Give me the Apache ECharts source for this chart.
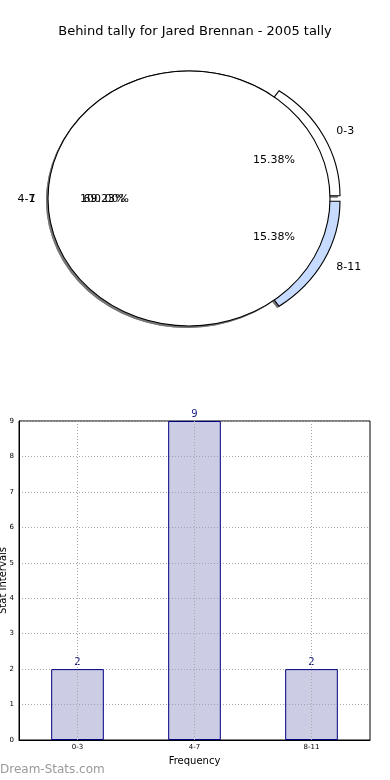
<!DOCTYPE html>
<html>
<head>
<meta charset="utf-8">
<script src="https://cdn.jsdelivr.net/npm/echarts@6/dist/echarts.min.js"></script>
<style>
html,body{margin:0;padding:0;background:#fff;}
#main{width:390px;height:780px;}
</style>
</head>
<body>
<div id="main"></div>
<script>
// ---- data ----
const titleText = 'Behind tally for Jared Brennan - 2005 tally';
const pieCategories = ['0-3', '4-7', '8-11'];
const pieValues = [2, 9, 2];
const pieExplode = [0.08, 0, 0.08];
const fullCategories = ['1'];
const fullValues = [1];
const fullExplode = [0];
const barCategories = ['0-3', '4-7', '8-11'];
const barValues = [2, 9, 2];
const yTicks = [0, 1, 2, 3, 4, 5, 6, 7, 8, 9];

// ---- style / layout ----
const pieColors = ['#ffffff', '#ffffff', '#c6dbff'];
const fullColors = ['#ffffff'];
const PCX = 189, PCY = 198.5, PR = 127.5, PSX = 141 / 127.5;
const EXPLODE_Y_SCALE = 0.6;
const SHADOW_COLOR = '#777777';
const GRID_COLOR = '#a8a8a8';
const FONT = '"DejaVu Sans", sans-serif';

function pieGeom(values, explode, i) {
  const total = values.reduce((a, b) => a + b, 0);
  let before = 0;
  for (let k = 0; k < i; k++) before += values[k];
  const a1 = before / total * 360;
  const a2 = a1 + values[i] / total * 360;
  const mid = (a1 + a2) / 2 * Math.PI / 180;
  const off = explode[i] * PR;
  return {a1, a2, mid, ox: off * Math.cos(mid), oy: -off * Math.sin(mid) * EXPLODE_Y_SCALE, frac: values[i] / total};
}

function shapeSeries(values, cats, colors, explode, z) {
  return {
    type: 'custom',
    coordinateSystem: 'none',
    z: z,
    silent: true,
    data: values.map((v, i) => ({name: cats[i], value: [v]})),
    renderItem: function (params, api) {
      const i = params.dataIndex;
      const g = pieGeom(values, explode, i);
      function mk(dx, dy, style) {
        if (g.frac >= 0.9999) {
          return {type: 'circle', shape: {cx: g.ox + dx, cy: g.oy + dy, r: PR}, style: style};
        }
        return {
          type: 'sector',
          shape: {cx: g.ox + dx, cy: g.oy + dy, r0: 0, r: PR,
            startAngle: -g.a2 * Math.PI / 180, endAngle: -g.a1 * Math.PI / 180, clockwise: true},
          style: style
        };
      }
      const shadow = mk(-2 / PSX, 2, {fill: SHADOW_COLOR, stroke: null, lineWidth: 0});
      const main = mk(0, 0, {fill: colors[i], stroke: '#000', lineWidth: 1, strokeNoScale: true});
      return {type: 'group', x: PCX, y: PCY, scaleX: PSX, scaleY: 1, children: [shadow, main]};
    }
  };
}

function labelSeries(values, cats, explode) {
  return {
    type: 'custom',
    coordinateSystem: 'none',
    z: 20,
    silent: true,
    data: values.map((v, i) => ({name: cats[i], value: [v]})),
    renderItem: function (params, api) {
      const i = params.dataIndex;
      const g = pieGeom(values, explode, i);
      const c = Math.cos(g.mid), s = Math.sin(g.mid);
      const lx = PCX + (1.1 * PR * c + g.ox) * PSX;
      const ly = PCY - 1.1 * PR * s + g.oy;
      const px = PCX + (0.6 * PR * c + g.ox) * PSX;
      const py = PCY - 0.6 * PR * s + g.oy;
      const pct = (g.frac * 100).toFixed(2) + '%';
      return {
        type: 'group',
        children: [
          {type: 'text', style: {text: cats[i], x: lx + (c > 0 ? 0 : 1.5), y: ly + 0.5, align: c > 0 ? 'left' : 'right',
            verticalAlign: 'middle', fill: '#000', fontSize: 11, fontFamily: FONT}},
          {type: 'text', style: {text: pct, x: px, y: py + 0.5, align: 'center',
            verticalAlign: 'middle', fill: '#000', fontSize: 11, fontFamily: FONT}}
        ]
      };
    }
  };
}

const chart = echarts.init(document.getElementById('main'), null, {renderer: 'canvas'});
chart.setOption({
  backgroundColor: '#fff',
  animation: false,
  title: {
    text: titleText, left: 'center', top: 20,
    textStyle: {fontFamily: FONT, fontSize: 13, fontWeight: 'normal', color: '#000'}
  },
  graphic: [{
    type: 'text', left: 0, top: 764,
    style: {text: 'Dream-Stats.com', fill: '#9a9a9a', fontSize: 12, fontWeight: 'normal', fontFamily: FONT}
  }],
  grid: {
    left: 19, right: 20, top: 421, bottom: 40, show: true,
    outerBoundsMode: 'none', containLabel: false,
    borderColor: '#000', borderWidth: 1, backgroundColor: 'transparent'
  },
  xAxis: {
    type: 'category', data: barCategories, boundaryGap: true,
    name: 'Frequency', nameLocation: 'middle', nameGap: 16, nameMoveOverlap: false,
    nameTextStyle: {fontFamily: FONT, fontSize: 10, color: '#000'},
    axisLine: {show: true, lineStyle: {color: '#000'}},
    axisTick: {show: false},
    axisLabel: {fontFamily: FONT, fontSize: 7, color: '#000', margin: 4},
    splitLine: {show: false}
  },
  yAxis: {
    type: 'value', min: yTicks[0], max: yTicks[yTicks.length - 1], interval: 1,
    name: 'Stat Intervals', nameLocation: 'middle', nameGap: 11, nameMoveOverlap: false,
    nameTextStyle: {fontFamily: FONT, fontSize: 10, color: '#000'},
    axisLine: {show: true, lineStyle: {color: '#000'}},
    axisTick: {show: false},
    axisLabel: {fontFamily: FONT, fontSize: 7, color: '#000', margin: 5},
    splitLine: {show: true, lineStyle: {color: GRID_COLOR, type: [1, 2], width: 1}}
  },
  series: [
    shapeSeries(pieValues, pieCategories, pieColors, pieExplode, 2),
    shapeSeries(fullValues, fullCategories, fullColors, fullExplode, 3),
    labelSeries(pieValues, pieCategories, pieExplode),
    labelSeries(fullValues, fullCategories, fullExplode),
    {
      type: 'bar',
      data: barValues,
      barWidth: '45%',
      itemStyle: {color: 'rgba(153,153,204,0.5)', borderColor: '#000080', borderWidth: 1},
      label: {show: true, position: 'top', distance: 2, color: '#1a1a80', fontSize: 10, fontFamily: FONT},
      markLine: {
        silent: true, symbol: 'none', label: {show: false},
        lineStyle: {color: GRID_COLOR, type: [1, 2], width: 1},
        data: barCategories.map(c => ({xAxis: c}))
      }
    }
  ]
});
</script>
</body>
</html>
